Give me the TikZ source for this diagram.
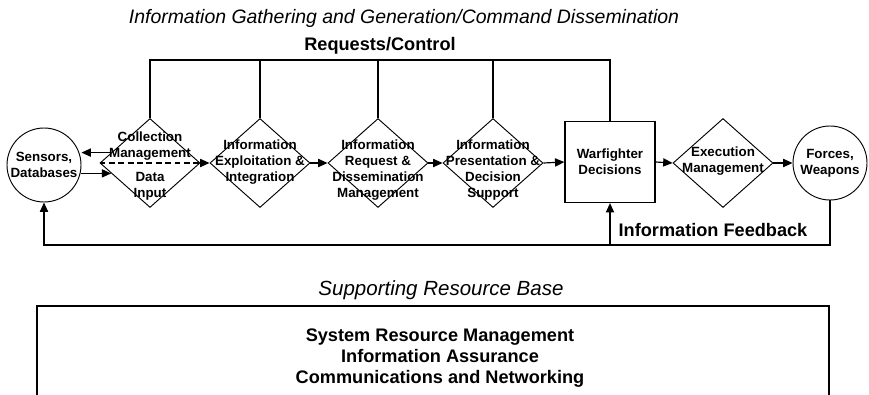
\documentclass[tikz,border=0pt]{standalone}
\usepackage{fontspec}
\setmainfont{Liberation Sans}
\usetikzlibrary{arrows.meta}
\usetikzlibrary{shapes.geometric}

\tikzset{
    dia/.style={draw,shape=diamond,minimum width=3cm,minimum height=2.67cm,inner sep=0pt,line width=0.8pt},
    circ/.style={draw,circle,minimum size=2.22cm,inner sep=0pt,line width=0.8pt},
    lbl/.style={font=\bfseries\fontsize{11.4}{13.6}\selectfont,align=center,inner sep=0pt},
    big/.style={font=\bfseries\fontsize{15.5}{17.9}\selectfont,align=center,inner sep=0pt},
    ital/.style={font=\itshape\fontsize{16.6}{20}\selectfont,inner sep=0pt},
    arr/.style={-{Triangle[length=8pt,width=7pt]}},
}

\begin{document}
\begin{tikzpicture}[x=0.03cm,y=-0.03cm,line width=1pt]
    \useasboundingbox (0,0) rectangle (869,395);

    \node[ital] (title) at (404,18) {Information Gathering and Generation/Command Dissemination};
    \node[big] (reqlbl) at (380,46) {Requests/Control};

    % main chain
    \node[circ,lbl] (sens) at (44,165) {Sensors,\\Databases};
    \node[dia] (coll) at (150,163) {};
    \node[dia] (expl) at (260,163) {};
    \node[dia] (req) at (378,163) {};
    \node[dia] (pres) at (493,163) {};
    \node[draw,lbl,minimum width=2.7cm,minimum height=2.43cm] (war) at (610,162) {Warfighter\\Decisions};
    \node[dia] (exe) at (723,163) {};
    \node[circ,lbl] (forc) at (830,163) {Forces,\\Weapons};

    \node[lbl] (collt) at (150,146) {Collection\\Management};
    \node[lbl] (colld) at (150,186) {Data\\Input};
    \node[lbl] (explt) at (260,162) {Information\\Exploitation \&\\Integration};
    \node[lbl] (reqt) at (378,170) {Information\\Request \&\\Dissemination\\Management};
    \node[lbl] (prest) at (493,170) {Information\\Presentation \&\\Decision\\Support};
    \node[lbl] (exet) at (723,161) {Execution\\Management};

    \draw[dash pattern=on 5pt off 3pt,line width=1.3pt] (coll.west) -- (coll.east);

    \draw[arr] (coll.165) -- (coll.165 -| sens.east);
    \draw[arr] (sens.east |- coll.195) -- (coll.195);
    \foreach \a/\b in {coll/expl,expl/req,req/pres,pres/war,war/exe,exe/forc}
        \draw[arr] (\a.east) -- (\b.west);

    % requests / control bus
    \coordinate (top) at (0,60);
    \draw (coll.north) |- (war.north |- top) -- (war.north);
    \foreach \n in {expl,req,pres}
        \draw (\n.north) -- (\n.north |- top);

    % feedback
    \coordinate (fb) at (0,245);
    \draw[arr] (forc.south) |- (sens.south |- fb) -- (sens.south);
    \draw[arr] (war.south |- fb) -- (war.south);
    \node[big] (fblbl) at (713,230) {Information Feedback};

    % resource base
    \node[ital,font=\itshape\fontsize{17.5}{20}\selectfont] (supp) at (441,290) {Supporting Resource Base};
    \draw (37,395) |- (829,306) -- (829,395);
    \node[big] (res) at (440,358) {System Resource Management\\Information Assurance\\Communications and Networking};
\end{tikzpicture}
\end{document}
